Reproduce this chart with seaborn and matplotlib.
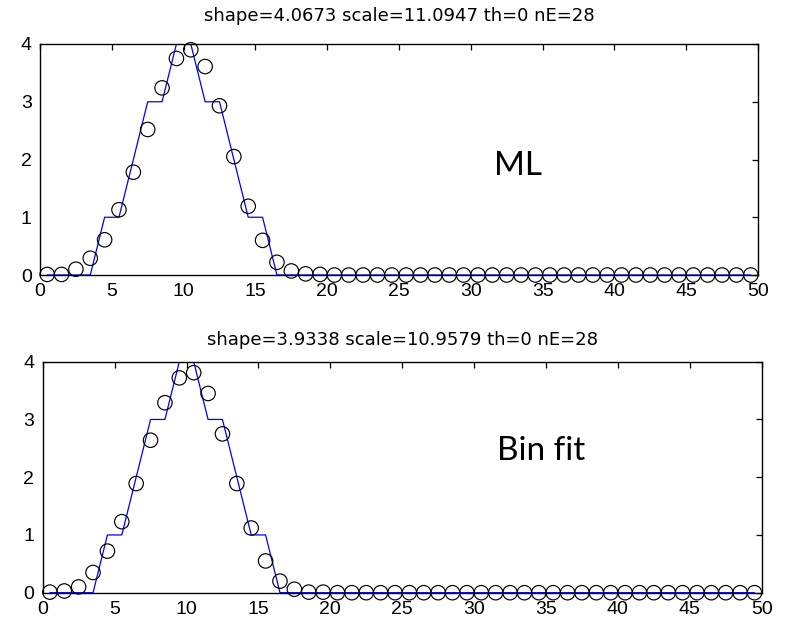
import numpy as np
import pandas as pd
import matplotlib
matplotlib.use("Agg")
import matplotlib.pyplot as plt
import seaborn as sns

sns.set_style("white")
plt.rcParams['font.family'] = ['Liberation Sans', 'DejaVu Sans']
plt.rcParams['text.color'] = 'black'

# ---- data ----
bin_centers = np.arange(0.5, 50.0, 1.0)
counts = [0, 0, 0, 0, 1, 1, 2, 3, 3, 4, 4, 3, 3, 2, 1, 1, 0, 0, 0, 0,
          0, 0, 0, 0, 0, 0, 0, 0, 0, 0, 0, 0, 0, 0, 0, 0, 0, 0, 0, 0,
          0, 0, 0, 0, 0, 0, 0, 0, 0, 0]
ml_fit = [0.01, 0.01, 0.10, 0.29, 0.61, 1.13, 1.78, 2.52, 3.24, 3.75,
          3.90, 3.61, 2.93, 2.05, 1.19, 0.60, 0.22, 0.07, 0.02, 0.01,
          0.0, 0.0, 0.0, 0.0, 0.0, 0.0, 0.0, 0.0, 0.0, 0.0,
          0.0, 0.0, 0.0, 0.0, 0.0, 0.0, 0.0, 0.0, 0.0, 0.0,
          0.0, 0.0, 0.0, 0.0, 0.0, 0.0, 0.0, 0.0, 0.0, 0.0]
bin_fit = [0.01, 0.03, 0.10, 0.35, 0.72, 1.23, 1.89, 2.64, 3.29, 3.72,
           3.81, 3.45, 2.75, 1.89, 1.12, 0.55, 0.20, 0.06, 0.01, 0.01,
           0.0, 0.0, 0.0, 0.0, 0.0, 0.0, 0.0, 0.0, 0.0, 0.0,
           0.0, 0.0, 0.0, 0.0, 0.0, 0.0, 0.0, 0.0, 0.0, 0.0,
           0.0, 0.0, 0.0, 0.0, 0.0, 0.0, 0.0, 0.0, 0.0, 0.0]
titles = ["shape=4.0673 scale=11.0947 th=0 nE=28",
          "shape=3.9338 scale=10.9579 th=0 nE=28"]
labels = ["ML", "Bin fit"]
x_ticks = [0, 5, 10, 15, 20, 25, 30, 35, 40, 45, 50]
y_ticks = [0, 1, 2, 3, 4]

W, H = 790, 622
fig = plt.figure(figsize=(W / 100, H / 100), dpi=100)
ax_rects = [
    [40 / W, 1 - 275 / H, 718 / W, 231 / H],
    [42.7 / W, 1 - 592.7 / H, 719 / W, 231 / H],
]
label_pos = [(31.6, 1.73), (31.6, 2.30)]
title_pads = [16.5, 12]

for i, fit in enumerate([ml_fit, bin_fit]):
    ax = fig.add_axes(ax_rects[i])
    df = pd.DataFrame({"x": bin_centers, "count": counts, "fit": fit})
    sns.lineplot(data=df, x="x", y="count", ax=ax, color=(0, 0, 1),
                 linewidth=0.9, estimator=None, sort=False, zorder=2)
    sns.scatterplot(data=df, x="x", y="fit", ax=ax, marker="o", s=108,
                    facecolors="none", edgecolor="black", linewidths=0.85,
                    clip_on=False, zorder=3)
    ax.set_xlim(0, 50)
    ax.set_ylim(0, 4)
    ax.set_xticks(x_ticks)
    ax.set_yticks(y_ticks)
    ax.set_xlabel("")
    ax.set_ylabel("")
    ax.tick_params(direction="in", length=4.5, width=0.9, top=True, right=True,
                   labelsize=14, colors="black", labelcolor="black", pad=6)
    for sp in ax.spines.values():
        sp.set_visible(True)
        sp.set_color("black")
        sp.set_linewidth(1.0)
    ax.set_title(titles[i], fontsize=13, pad=title_pads[i],
                 family=["DejaVu Sans"], color="black")
    ax.text(label_pos[i][0], label_pos[i][1], labels[i], fontsize=24,
            family=["Lato", "DejaVu Sans"], va="baseline", ha="left",
            color="black")

fig.savefig("out.png", dpi=100, facecolor="white")
